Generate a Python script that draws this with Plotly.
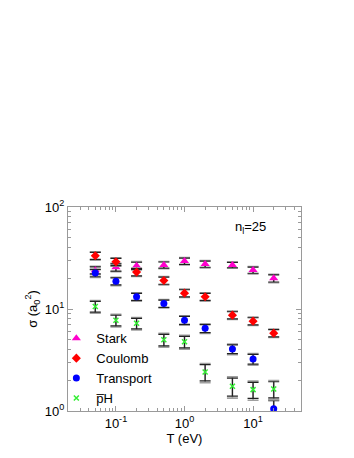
import plotly.graph_objects as go

T = [0.05, 0.1, 0.2, 0.5, 1, 2, 5, 10, 20]
stark = [24.0, 25.6, 26.6, 27.0, 29.5, 27.6, 27.0, 24.1, 20.0]
coulomb = [33.3, 29.0, 23.0, 19.0, 14.3, 13.2, 8.7, 7.6, 5.8]
transport = [22.5, 18.7, 13.2, 11.3, 7.75, 6.46, 4.05, 3.23, 1.05]
ph = [10.6, 7.75, 7.24, 5.0, 4.78, 2.41, 1.75, 1.62, 1.64]

# relative errors (fraction)
stark_rel = [0.08, 0.08, 0.08, 0.07, 0.07, 0.07, 0.06, 0.07, 0.08]
coulomb_rel = [0.08, 0.08, 0.08, 0.08, 0.08, 0.08, 0.08, 0.08, 0.08]
transport_rel = [0.08, 0.08, 0.08, 0.08, 0.09, 0.09, 0.1, 0.11, 0.2]
ph_rel = [0.12, 0.12, 0.12, 0.13, 0.13, 0.18, 0.2, 0.18, 0.18]

series = [
    ("Stark", stark, stark_rel, "#ff00cc", "triangle-up", 8),
    ("Coulomb", coulomb, coulomb_rel, "#ff0000", "diamond", 7),
    ("Transport", transport, transport_rel, "#0000ff", "circle", 7),
    ("p\u0305H", ph, ph_rel, "#33ee33", "x-thin-open", 5),
]

FONT = "Liberation Sans, Arial, sans-serif"

fig = go.Figure()
for name, vals, rel, col, sym, sz in series:
    err = [v * r for v, r in zip(vals, rel)]
    # gray shadow caps
    fig.add_trace(go.Scatter(
        x=T, y=vals, mode="markers", showlegend=False, hoverinfo="skip",
        marker=dict(size=0.1, color="rgba(0,0,0,0)"),
        error_y=dict(type="data", array=[e * 1.18 for e in err], symmetric=True,
                     color="#a0a0a0", thickness=1.6, width=5.5),
    ))
    fig.add_trace(go.Scatter(
        x=T, y=vals, mode="markers", name=name,
        marker=dict(symbol=sym, size=sz, color=col,
                    line=dict(color=col, width=1.5 if sym == "x-thin-open" else 0)),
        error_y=dict(type="data", array=err, symmetric=True,
                     color="#222222", thickness=1.2, width=5.5),
    ))

minor_x = [m * 10 ** k for k in range(-2, 2) for m in range(2, 10)]
minor_y = [m * 10 ** k for k in range(0, 2) for m in range(2, 10)]

axis_common = dict(
    showgrid=False, zeroline=False, showline=True, linecolor="#9a9a9a", linewidth=1,
    mirror="ticks", ticks="inside", ticklen=5, tickcolor="#9a9a9a",
    tickfont=dict(family=FONT, size=13, color="black"),
)

fig.update_xaxes(
    type="log", range=[-1.699, 1.699],
    tickvals=[0.1, 1, 10], ticktext=["10<sup>-1</sup>", "10<sup>0</sup>", "10<sup>1</sup>"],
    minor=dict(tickvals=minor_x, ticks="inside", ticklen=3, tickcolor="#9a9a9a"),
    title=dict(text="T (eV)", font=dict(family=FONT, size=13, color="black"), standoff=0),
    **axis_common,
)
fig.update_yaxes(
    type="log", range=[0, 2],
    tickvals=[1, 10, 100], ticktext=["10<sup>0</sup>", "10<sup>1</sup>", "10<sup>2</sup>"],
    minor=dict(tickvals=minor_y, ticks="inside", ticklen=3, tickcolor="#9a9a9a"),
    title=dict(text="σ (a<sub>0</sub><sup>2</sup>)", font=dict(family=FONT, size=13, color="black"), standoff=4),
    **axis_common,
)

fig.add_annotation(
    x=0.86, y=0.95, xref="paper", yref="paper",
    text="n<sub>l</sub>=25", showarrow=False,
    font=dict(family=FONT, size=13, color="black"),
)

fig.update_layout(
    width=354, height=458,
    margin=dict(l=60, r=61, t=199, b=55),
    paper_bgcolor="white", plot_bgcolor="white",
    legend=dict(x=-0.05, y=0.43, xanchor="left", yanchor="top",
                bgcolor="rgba(0,0,0,0)", tracegroupgap=0,
                font=dict(family=FONT, size=13, color="black")),
)

fig.write_html("out.html")
